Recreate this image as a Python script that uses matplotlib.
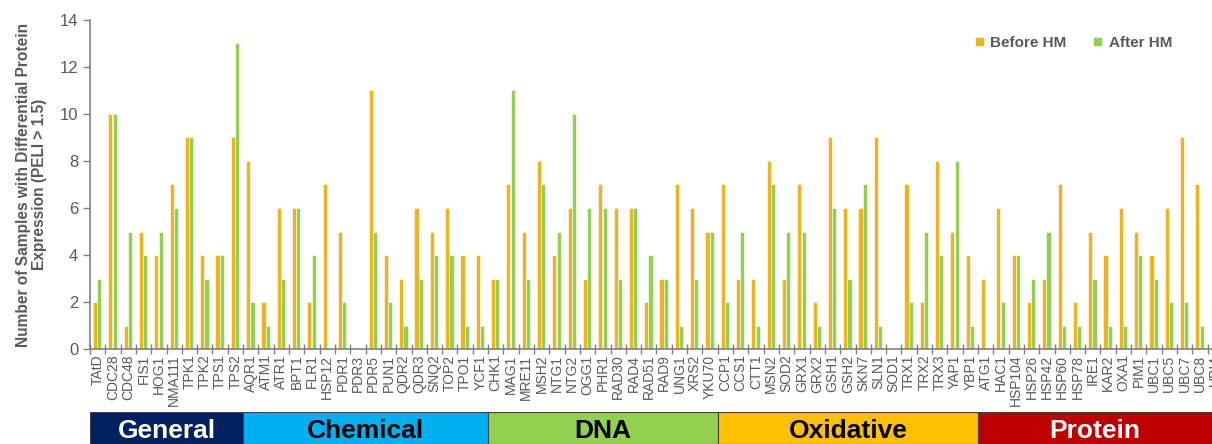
import matplotlib
matplotlib.use("Agg")
import matplotlib.pyplot as plt
from matplotlib.patches import Rectangle
import numpy as np

plt.rcParams['font.family'] = ['Liberation Sans', 'DejaVu Sans']

genes = ["TAtD", "CDC28", "CDC48", "FIS1", "HOG1", "NMA111", "TPK1", "TPK2", "TPS1", "TPS2",
         "AQR1", "ATM1", "ATR1", "BPT1", "FLR1", "HSP12", "PDR1", "PDR3", "PDR5", "PUN1",
         "QDR2", "QDR3", "SNQ2", "TOP2", "TPO1", "YCF1",
         "CHK1", "MAG1", "MRE11", "MSH2", "NTG1", "NTG2", "OGG1", "PHR1", "RAD30", "RAD4",
         "RAD51", "RAD9", "UNG1", "XRS2", "YKU70",
         "CCP1", "CCS1", "CTT1", "MSN2", "SOD2", "GRX1", "GRX2", "GSH1", "GSH2", "SKN7",
         "SLN1", "SOD1", "TRX1", "TRX2", "TRX3", "YAP1", "YBP1",
         "ATG1", "HAC1", "HSP104", "HSP26", "HSP42", "HSP60", "HSP78", "IRE1", "KAR2", "OXA1",
         "PIM1", "UBC1", "UBC5", "UBC7", "UBC8", "UBI4"]

before_hm = [2, 10, 1, 5, 4, 7, 9, 4, 4, 9,
             8, 2, 6, 6, 2, 7, 5, 0, 11, 4,
             3, 6, 5, 6, 4, 4,
             3, 7, 5, 8, 4, 6, 3, 7, 6, 6,
             2, 3, 7, 6, 5,
             7, 3, 3, 8, 3, 7, 2, 9, 6, 6,
             9, 0, 7, 2, 8, 5, 4,
             3, 6, 4, 2, 3, 7, 2, 5, 4, 6,
             5, 4, 6, 9, 7, 0]

after_hm = [3, 10, 5, 4, 5, 6, 9, 3, 4, 13,
            2, 1, 3, 6, 4, 0, 2, 0, 5, 2,
            1, 3, 4, 4, 1, 1,
            3, 11, 3, 7, 5, 10, 6, 6, 3, 6,
            4, 3, 1, 3, 5,
            2, 5, 1, 7, 5, 5, 1, 6, 3, 7,
            1, 0, 2, 5, 4, 8, 1,
            0, 2, 4, 3, 5, 1, 1, 3, 1, 1,
            4, 3, 2, 2, 1, 0]

group_names = ["General", "Chemical", "DNA", "Oxidative", "Protein"]
group_sizes = [10, 16, 15, 17, 16]
group_colors = ["#002060", "#00B0F0", "#92D050", "#FFC000", "#C00000"]
group_text_colors = ["white", "black", "black", "black", "white"]

W, H = 1212, 444
fig = plt.figure(figsize=(W / 100, H / 100), dpi=100)

n = len(genes)
x0_px = 90
cat_px = 15.31
ax_w_px = n * cat_px  # axis extends past the right edge of the image, as in the reference
ax = fig.add_axes([x0_px / W, 95 / H, ax_w_px / W, (349 - 20) / H])

idx = np.arange(n)
orange = "#EDB41C"
green = "#92D050"
bw = 0.27
ax.bar(idx + 0.33, before_hm, width=bw, color=orange, edgecolor="white", linewidth=0.4, label="Before HM")
ax.bar(idx + 0.61, after_hm, width=bw, color=green, edgecolor="white", linewidth=0.4, label="After HM")

ax.set_yticks(np.arange(0, 15, 2))
ax.set_xticks(idx + 0.5)
ax.set_xticklabels(genes, rotation=90, fontsize=10, color="#595959")
ax.set_xticks(np.arange(0, n + 1), minor=True)
ax.set_xlim(0, n)
ax.set_ylim(0, 14)
ax.tick_params(axis="x", which="major", length=0, pad=4)
ax.tick_params(axis="x", which="minor", length=7, direction="inout", color="#808080", width=1)
ax.tick_params(axis="y", labelsize=12, labelcolor="#595959", color="#808080", length=5, width=1)

for s in ["top", "right"]:
    ax.spines[s].set_visible(False)
for s in ["left", "bottom"]:
    ax.spines[s].set_color("#808080")
    ax.spines[s].set_linewidth(1.2)

ax.set_ylabel("Number of Samples with Differential Protein\nExpression (PELI > 1.5)",
              fontsize=11.2, fontweight="bold", color="#595959", labelpad=9, linespacing=1.1)

leg = fig.legend(handles=ax.get_legend_handles_labels()[0], labels=ax.get_legend_handles_labels()[1],
                 loc="center", bbox_to_anchor=(1073.5 / W, (444 - 43) / H), ncol=2, frameon=False,
                 handlelength=0.6, handleheight=0.6, columnspacing=1.75, handletextpad=0.4,
                 prop={"size": 11, "weight": "bold"})
for t in leg.get_texts():
    t.set_color("#595959")

# category bands
bax = fig.add_axes([x0_px / W, 0, ax_w_px / W, 32 / H])
bax.set_xlim(0, n)
bax.set_ylim(0, 1)
bax.axis("off")
start = 0
for name, size, col, tcol in zip(group_names, group_sizes, group_colors, group_text_colors):
    bax.add_patch(Rectangle((start, 0), size, 1, facecolor=col, edgecolor="#404040", linewidth=0.8))
    vis_end = min(start + size, (W - x0_px) / cat_px)
    bax.text((start + vis_end) / 2, 0.42, name,
             ha="center", va="center", fontsize=19, fontweight="bold", color=tcol)
    start += size

fig.savefig("out.png", dpi=100)
